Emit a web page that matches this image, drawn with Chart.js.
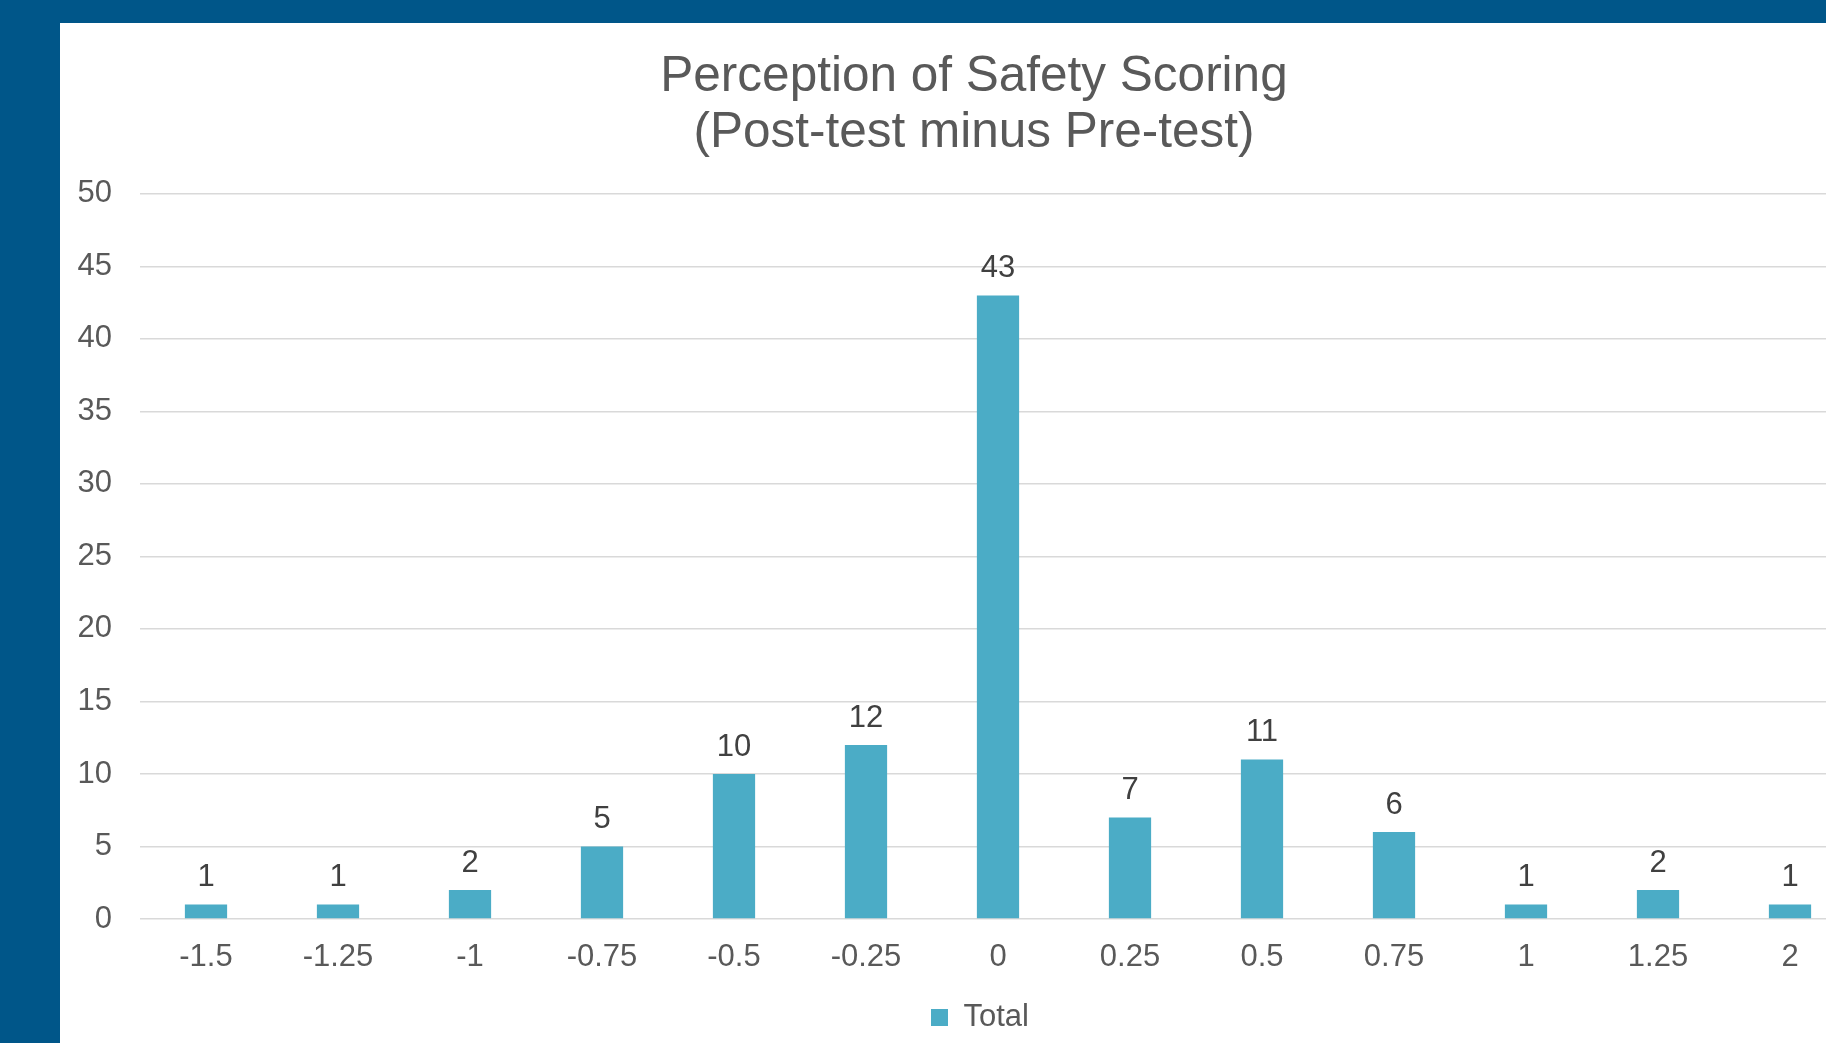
<!DOCTYPE html>
<html>
<head>
<meta charset="utf-8">
<script src="https://cdn.jsdelivr.net/npm/chart.js@4.4.1/dist/chart.umd.min.js"></script>
<style>
  html, body { margin: 0; padding: 0; width: 1826px; height: 1043px; overflow: hidden; background: #005689; }
  #panel { position: absolute; left: 60px; top: 23px; width: 1828px; height: 1020px; background: #ffffff; }
  #chart { display: block; }
</style>
</head>
<body>
<div id="panel"><canvas id="chart" width="1828" height="1020"></canvas></div>
<script>
// Distribución de diferencias (post - pre)
const categories = ['-1.5', '-1.25', '-1', '-0.75', '-0.5', '-0.25', '0', '0.25', '0.5', '0.75', '1', '1.25', '2'];
const totals = [1, 1, 2, 5, 10, 12, 43, 7, 11, 6, 1, 2, 1];
const yTicks = [0, 5, 10, 15, 20, 25, 30, 35, 40, 45, 50];

const FONT = '"Liberation Sans", Arial, sans-serif';
const BAR = '#4BACC6';

// etiquetas de valor encima de cada barra
const valueLabels = {
  id: 'valueLabels',
  afterDatasetsDraw(chart) {
    const ctx = chart.ctx;
    const meta = chart.getDatasetMeta(0);
    ctx.save();
    ctx.font = '31px ' + FONT;
    ctx.fillStyle = '#404040';
    ctx.textAlign = 'center';
    ctx.textBaseline = 'alphabetic';
    meta.data.forEach((bar, i) => {
      ctx.fillText(String(totals[i]), bar.x, bar.y - 18);
    });
    ctx.restore();
  }
};

// pequeño ajuste horizontal de título y leyenda
const nudgeBlocks = {
  id: 'nudgeBlocks',
  afterLayout(chart) {
    if (chart.titleBlock) { chart.titleBlock.left += 7; chart.titleBlock.right += 7; }
    if (chart.legend) { chart.legend.left += 13; chart.legend.right += 13; }
  }
};

new Chart(document.getElementById('chart').getContext('2d'), {
  type: 'bar',
  data: {
    labels: categories,
    datasets: [{
      label: 'Total',
      data: totals,
      backgroundColor: BAR,
      borderWidth: 0,
      barPercentage: 0.32,
      categoryPercentage: 1.0
    }]
  },
  options: {
    responsive: false,
    animation: false,
    layout: { padding: { left: 18, right: 32, top: 0, bottom: 0 } },
    plugins: {
      title: {
        display: true,
        text: ['Perception of Safety Scoring', '(Post-test minus Pre-test)'],
        color: '#595959',
        font: { family: FONT, size: 49.5, weight: 'normal', lineHeight: 1.12 },
        padding: { top: 27, bottom: 33 }
      },
      legend: {
        position: 'bottom',
        labels: {
          color: '#595959',
          font: { family: FONT, size: 31 },
          boxWidth: 17,
          boxHeight: 17,
          padding: 10
        }
      },
      tooltip: { enabled: false }
    },
    scales: {
      x: {
        grid: { display: false, drawTicks: false },
        border: { display: false },
        ticks: { color: '#595959', font: { family: FONT, size: 31 }, padding: 20, maxRotation: 0, autoSkip: false },
        afterFit(scale) { scale.height = 73; }
      },
      y: {
        min: 0,
        max: 50,
        afterBuildTicks(scale) { scale.ticks = yTicks.map(v => ({ value: v })); },
        afterFit(scale) { scale.width = 62; },
        grid: { color: '#d9d9d9', lineWidth: 1.5, drawTicks: false },
        border: { display: false },
        ticks: { color: '#595959', font: { family: FONT, size: 31 }, padding: 28 }
      }
    }
  },
  plugins: [valueLabels, nudgeBlocks]
});
</script>
</body>
</html>
